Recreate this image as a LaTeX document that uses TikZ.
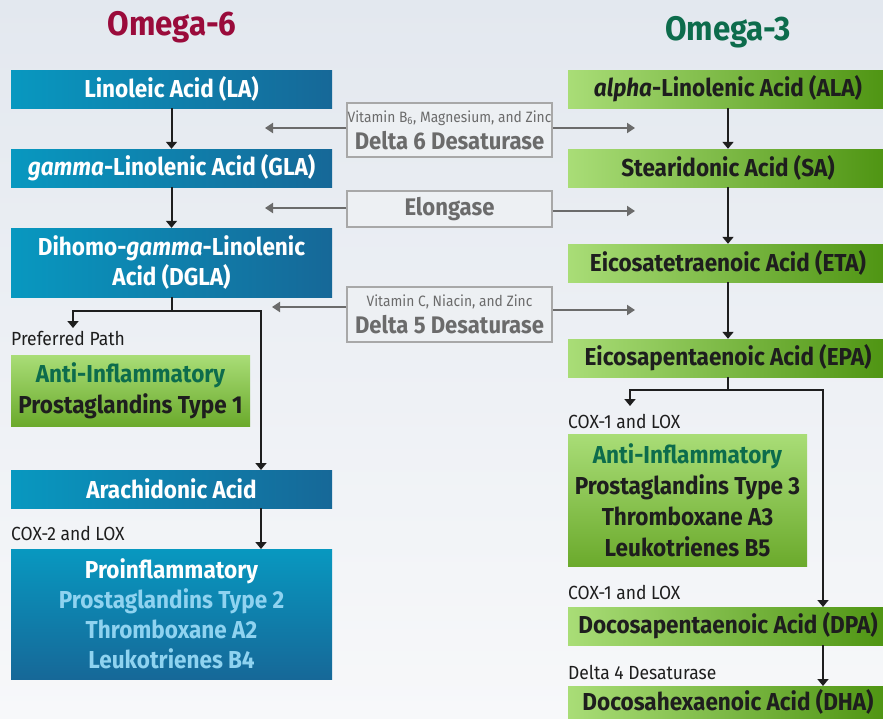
\documentclass[tikz,border=0pt]{standalone}
\usepackage{fontspec}
\setmainfont[FakeStretch=0.92]{Fira Sans}
\usetikzlibrary{arrows.meta}

\definecolor{bgtop}{HTML}{E3E8EF}
\definecolor{bgbot}{HTML}{F7F8FA}
\definecolor{sixred}{HTML}{9A0B3B}
\definecolor{threegreen}{HTML}{0D6C4C}
\definecolor{blueL}{HTML}{0898C0}
\definecolor{blueR}{HTML}{166898}
\definecolor{greenL}{HTML}{A9DD77}
\definecolor{greenR}{HTML}{4E9412}
\definecolor{greenB}{HTML}{6BAA2C}
\definecolor{paleblue}{HTML}{8FD3F0}
\definecolor{enzgray}{HTML}{6B6B6B}
\definecolor{enzline}{HTML}{A8A8A8}
\definecolor{enzfill}{HTML}{EDF0F3}
\definecolor{inkdark}{HTML}{1E1E1E}

\tikzset{
  acid6/.style={left color=blueL, right color=blueR, text=white, inner sep=0pt,
    minimum width=321pt, minimum height=38pt, align=center,
    font=\bfseries\fontsize{24.5}{30}\selectfont},
  acid3/.style={left color=greenL, right color=greenR, text=inkdark, inner sep=0pt,
    minimum width=320pt, minimum height=38pt, align=center,
    font=\bfseries\fontsize{24.5}{30}\selectfont},
  effect3/.style={top color=greenL, bottom color=greenB, text=inkdark, inner sep=0pt,
    align=center, font=\bfseries\fontsize{24.5}{31}\selectfont},
  effect6/.style={top color=blueL, bottom color=blueR, text=white, inner sep=0pt,
    align=center, font=\bfseries\fontsize{24.5}{30}\selectfont},
  enzbox/.style={draw=enzline, line width=2pt, fill=enzfill, text=enzgray, inner sep=0pt,
    minimum width=205pt, align=center, font=\bfseries\fontsize{24}{27}\selectfont},
  note/.style={anchor=west, inner sep=0pt, text=inkdark, font=\fontsize{19}{22}\selectfont},
  flow/.style={line width=2pt, draw=inkdark, -{Triangle[width=11pt,length=7pt]}},
  enzflow/.style={line width=2.2pt, draw=enzgray, -{Triangle[width=10pt,length=8pt]}},
}

\begin{document}
\begin{tikzpicture}[x=1pt, y=-1pt]
  \useasboundingbox (0,0) rectangle (883,718);
  \clip (0,0) rectangle (883,718);
  \fill[top color=bgtop, bottom color=bgbot] (0,0) rectangle (883,718);

  % titles
  \node[text=sixred, font=\bfseries\fontsize{34}{40}\selectfont] (title6) at (172,27) {Omega-6};
  \node[text=threegreen, font=\bfseries\fontsize{34}{40}\selectfont] (title3) at (728,32) {Omega-3};

  % omega-6 side
  \node[acid6] (la) at (171.5,89) {Linoleic Acid (LA)};
  \node[acid6] (gla) at (171.5,168) {\textit{gamma}-Linolenic Acid (GLA)};
  \node[acid6, minimum height=69pt] (dgla) at (171.5,262.5) {Dihomo-\textit{gamma}-Linolenic\\Acid (DGLA)};
  \node[note] (pref) at (11,338) {Preferred Path};
  \node[effect3, minimum width=239pt, minimum height=71pt] (pg1) at (130.5,390.5)
    {\textcolor{threegreen}{Anti-Inflammatory}\\Prostaglandins Type 1};
  \node[acid6] (aa) at (171.5,489) {Arachidonic Acid};
  \node[note] (cox2) at (11,533) {COX-2 and LOX};
  \node[effect6, minimum width=321pt, minimum height=130pt] (pg2) at (171.5,614)
    {Proinflammatory\\\textcolor{paleblue}{Prostaglandins Type 2}\\
     \textcolor{paleblue}{Thromboxane A2}\\\textcolor{paleblue}{Leukotrienes B4}};

  % omega-3 side
  \node[acid3] (ala) at (728,89) {\textit{alpha}-Linolenic Acid (ALA)};
  \node[acid3] (sa) at (728,168) {Stearidonic Acid (SA)};
  \node[acid3] (eta) at (728,263) {Eicosatetraenoic Acid (ETA)};
  \node[acid3] (epa) at (728,358) {Eicosapentaenoic Acid (EPA)};
  \node[note] (cox1a) at (568,421) {COX-1 and LOX};
  \node[effect3, minimum width=239pt, minimum height=132pt] (pg3) at (687.5,500)
    {\textcolor{threegreen}{Anti-Inflammatory}\\Prostaglandins Type 3\\Thromboxane A3\\Leukotrienes B5};
  \node[note] (cox1b) at (568,592) {COX-1 and LOX};
  \node[acid3] (dpa) at (728,626) {Docosapentaenoic Acid (DPA)};
  \node[note] (d4) at (568,672) {Delta 4 Desaturase};
  \node[acid3, minimum height=32pt] (dha) at (728,702) {Docosahexaenoic Acid (DHA)};

  % enzymes in the middle
  \node[enzbox, minimum height=54pt] (d6) at (449.5,130)
    {{\mdseries\fontsize{15}{18}\selectfont Vitamin B\textsubscript{6}, Magnesium, and Zinc}\\Delta 6 Desaturase};
  \node[enzbox, minimum height=36pt] (elo) at (449.5,209) {Elongase};
  \node[enzbox, minimum height=55pt] (d5) at (449.5,314.5)
    {{\mdseries\fontsize{15}{18}\selectfont Vitamin C, Niacin, and Zinc}\\Delta 5 Desaturase};

  \coordinate (d6l) at (265,128);
  \coordinate (d6r) at (635,128);
  \coordinate (elol) at (265,208);
  \coordinate (elor) at (635,211);
  \coordinate (d5l) at (272,307);
  \coordinate (d5r) at (635,310);
  \draw[enzflow] (d6.west |- d6l) -- (d6l);
  \draw[enzflow] (d6.east |- d6r) -- (d6r);
  \draw[enzflow] (elo.west |- elol) -- (elol);
  \draw[enzflow] (elo.east |- elor) -- (elor);
  \draw[enzflow] (d5.west |- d5l) -- (d5l);
  \draw[enzflow] (d5.east |- d5r) -- (d5r);

  % omega-6 flow
  \draw[flow] (la) -- (gla);
  \draw[flow] (gla) -- (dgla);
  \coordinate (fork6) at (171.5,311);
  \coordinate (pgin) at (73,328);
  \coordinate (aain) at (261,470);
  \coordinate (aaout) at (261,508);
  \coordinate (pg2in) at (261,549);
  \draw[line width=2pt, draw=inkdark] (dgla.south) -- (fork6);
  \draw[flow] (fork6) -| (pgin);
  \draw[flow] (fork6) -| (aain);
  \draw[flow] (aaout) -- (pg2in);

  % omega-3 flow
  \draw[flow] (ala) -- (sa);
  \draw[flow] (sa) -- (eta);
  \draw[flow] (eta) -- (epa);
  \coordinate (fork3) at (728,390);
  \coordinate (pg3in) at (630,406);
  \coordinate (dpain) at (823,607);
  \coordinate (dpaout) at (823,645);
  \coordinate (dhain) at (823,686);
  \draw[line width=2pt, draw=inkdark] (epa.south) -- (fork3);
  \draw[flow] (fork3) -| (pg3in);
  \draw[flow] (fork3) -| (dpain);
  \draw[flow] (dpaout) -- (dhain);
\end{tikzpicture}
\end{document}
